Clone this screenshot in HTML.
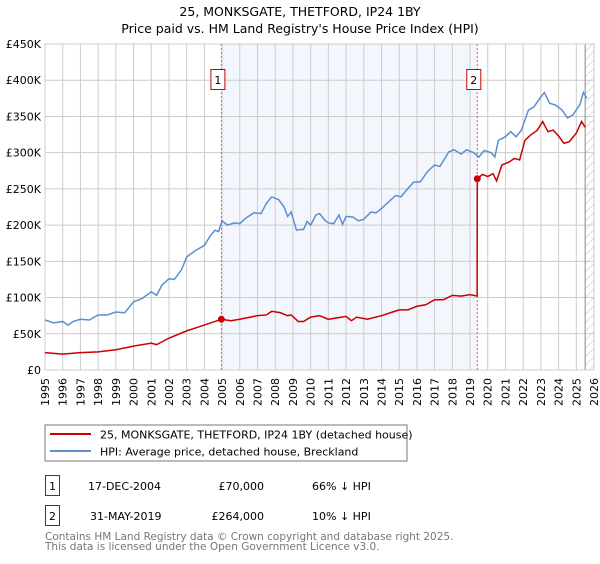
<!DOCTYPE html>
<html><head><meta charset="utf-8"><style>
body{margin:0;background:#fff;font-family:"DejaVu Sans","Liberation Sans",sans-serif;}
svg text{font-family:"DejaVu Sans","Liberation Sans",sans-serif;}
</style></head><body>
<svg id="c" width="600" height="560" xmlns="http://www.w3.org/2000/svg">
<defs><pattern id="hatch" width="6" height="6" patternUnits="userSpaceOnUse" patternTransform="rotate(45)"><line x1="0" y1="0" x2="0" y2="6" stroke="#bbb" stroke-width="1"/></pattern></defs>
<text x="300" y="16" text-anchor="middle" font-size="12.5" fill="#000">25, MONKSGATE, THETFORD, IP24 1BY</text>
<text x="300" y="33" text-anchor="middle" font-size="12.5" fill="#000">Price paid vs. HM Land Registry's House Price Index (HPI)</text>
<g id="plot"></g>
<rect x="45" y="425" width="362" height="36" fill="#fff" stroke="#777"/>
<line x1="50" y1="434" x2="91" y2="434" stroke="#cc0000" stroke-width="2"/>
<text x="100" y="438.5" font-size="11">25, MONKSGATE, THETFORD, IP24 1BY (detached house)</text>
<line x1="50" y1="451" x2="91" y2="451" stroke="#5b8fd0" stroke-width="2"/>
<text x="100" y="455.5" font-size="11">HPI: Average price, detached house, Breckland</text>
<g>
<rect x="45.5" y="475.5" width="14" height="20" fill="#fff" stroke="#cc0000"/>
<text x="52.5" y="490" font-size="11" text-anchor="middle">1</text>
<text x="88" y="490" font-size="11">17-DEC-2004</text>
<text x="264" y="490" font-size="11" text-anchor="end">£70,000</text>
<text x="312" y="490" font-size="11">66% ↓ HPI</text></g>
<g>
<rect x="45.5" y="505.5" width="14" height="20" fill="#fff" stroke="#cc0000"/>
<text x="52.5" y="520" font-size="11" text-anchor="middle">2</text>
<text x="90" y="520" font-size="11">31-MAY-2019</text>
<text x="264" y="520" font-size="11" text-anchor="end">£264,000</text>
<text x="312" y="520" font-size="11">10% ↓ HPI</text></g>
<text x="45" y="540" font-size="10.5" fill="#777">Contains HM Land Registry data © Crown copyright and database right 2025.</text>
<text x="45" y="550" font-size="10.5" fill="#777">This data is licensed under the Open Government Licence v3.0.</text>
</svg>
<script>
const yTicks=[0,50,100,150,200,250,300,350,400,450];
const yTickLabels=["£0","£50K","£100K","£150K","£200K","£250K","£300K","£350K","£400K","£450K"];
const xYears=[1995,1996,1997,1998,1999,2000,2001,2002,2003,2004,2005,2006,2007,2008,2009,2010,2011,2012,2013,2014,2015,2016,2017,2018,2019,2020,2021,2022,2023,2024,2025,2026];
const hpiT=[1995.0,1995.5,1996.0,1996.3,1996.6,1997.0,1997.5,1998.0,1998.5,1999.0,1999.5,2000.0,2000.5,2001.0,2001.3,2001.6,2002.0,2002.3,2002.7,2003.0,2003.5,2004.0,2004.3,2004.6,2004.8,2005.0,2005.3,2005.7,2006.0,2006.3,2006.8,2007.2,2007.5,2007.8,2008.2,2008.5,2008.7,2008.9,2009.2,2009.4,2009.6,2009.8,2010.0,2010.3,2010.5,2010.8,2011.0,2011.3,2011.6,2011.8,2012.0,2012.4,2012.7,2013.0,2013.4,2013.7,2014.0,2014.4,2014.8,2015.1,2015.4,2015.8,2016.2,2016.6,2017.0,2017.3,2017.5,2017.8,2018.1,2018.5,2018.8,2019.2,2019.5,2019.8,2020.2,2020.4,2020.6,2021.0,2021.3,2021.6,2021.9,2022.3,2022.6,2023.0,2023.2,2023.5,2023.8,2024.2,2024.5,2024.8,2025.2,2025.4,2025.6];
const hpiV=[69,65,67,62,67,70,69,76,76,80,79,94,99,108,103,117,126,125,138,156,165,172,184,193,191,206,200,203,202,209,217,216,230,239,235,225,212,218,193,194,194,205,200,214,216,207,203,202,214,201,212,211,206,208,218,217,223,232,241,239,248,259,260,274,283,281,289,301,304,298,304,300,294,303,300,294,317,322,329,322,331,359,363,377,383,368,366,359,348,352,366,383,375];
const priceT=[1995.0,1996.0,1997.0,1998.0,1999.0,2000.0,2001.0,2001.3,2002.0,2003.0,2004.0,2004.96,2005.5,2006.0,2007.0,2007.5,2007.8,2008.3,2008.7,2008.9,2009.3,2009.6,2010.0,2010.5,2011.0,2012.0,2012.3,2012.6,2013.2,2014.0,2014.5,2015.0,2015.5,2016.0,2016.5,2017.0,2017.5,2018.0,2018.5,2019.0,2019.4,2019.41,2019.7,2020.0,2020.3,2020.5,2020.8,2021.2,2021.5,2021.8,2022.1,2022.4,2022.8,2023.1,2023.4,2023.7,2024.0,2024.3,2024.6,2025.0,2025.3,2025.5];
const priceV=[24,22,24,25,28,33,37,35,44,54,62,70,68,70,75,76,81,79,75,76,67,67,73,75,70,74,68,73,70,75,79,83,83,88,90,97,97,103,102,104,102,264,270,267,271,261,283,287,292,290,317,324,331,343,329,331,323,313,315,327,343,335];
const saleT=[2004.96,2019.41];
const saleV=[70,264];
const saleLabels=["1","2"];
const X0=45,X1=594,Y0=370,Y1=44;
const xs=t=>X0+(t-1995)/(2026-1995)*(X1-X0);
const ys=v=>Y0-v/450*(Y0-Y1);
const NS="http://www.w3.org/2000/svg";
const g=document.getElementById('plot');
function mk(tag,attrs,parent){const e=document.createElementNS(NS,tag);for(const k in attrs)e.setAttribute(k,attrs[k]);(parent||g).appendChild(e);return e;}
let e;
e=mk('rect',{x:xs(saleT[0]),y:Y1,width:xs(saleT[1])-xs(saleT[0]),height:Y0-Y1,fill:'#f3f6fd'});


e=mk('rect',{x:xs(2025.5),y:Y1,width:X1-xs(2025.5),height:Y0-Y1,fill:'url(#hatch)'});


yTicks.forEach((v,i)=>{
 e=mk('line',{x1:X0,x2:X1,y1:ys(v),y2:ys(v),stroke:'#ccc','stroke-width':1});
 
 
 e=mk('text',{x:X0-4,y:ys(v)+4,'text-anchor':'end','font-size':11});
 e.textContent=yTickLabels[i];
 
 
});
xYears.forEach(yr=>{
 e=mk('line',{x1:xs(yr),x2:xs(yr),y1:Y1,y2:Y0,stroke:'#ccc','stroke-width':1});
 
 
 e=mk('text',{x:0,y:0,'font-size':11,'text-anchor':'end',transform:`translate(${xs(yr)+4},${Y0+8}) rotate(-90)`});
 e.textContent=yr;
 
 
});
e=mk('line',{x1:xs(2025.5),x2:xs(2025.5),y1:Y1,y2:Y0,stroke:'#888','stroke-width':1});


e=mk('rect',{x:X0,y:Y1,width:X1-X0,height:Y0-Y1,fill:'none',stroke:'#ccc'});


saleT.forEach((t,i)=>{
 e=mk('line',{x1:xs(t),x2:xs(t),y1:Y1,y2:Y0,stroke:'#e06060','stroke-width':1,'stroke-dasharray':'2,2'});
 
 
});
e=mk('polyline',{points:hpiT.map((t,i)=>xs(t)+','+ys(hpiV[i])).join(' '),fill:'none',stroke:'#5b8fd0','stroke-width':1.5});


e=mk('polyline',{points:priceT.map((t,i)=>xs(t)+','+ys(priceV[i])).join(' '),fill:'none',stroke:'#cc0000','stroke-width':1.5});


saleT.forEach((t,i)=>{
 e=mk('circle',{cx:xs(t),cy:ys(saleV[i]),r:3.5,fill:'#cc0000'});
 
 
 e=mk('rect',{x:xs(t)-10.5,y:69.5,width:14,height:20,fill:'#fff',stroke:'#cc0000'});
 
 
 e=mk('text',{x:xs(t)-3.5,y:84,'font-size':11,'text-anchor':'middle'});
 e.textContent=saleLabels[i];
 
 
});
</script>
</body></html>
